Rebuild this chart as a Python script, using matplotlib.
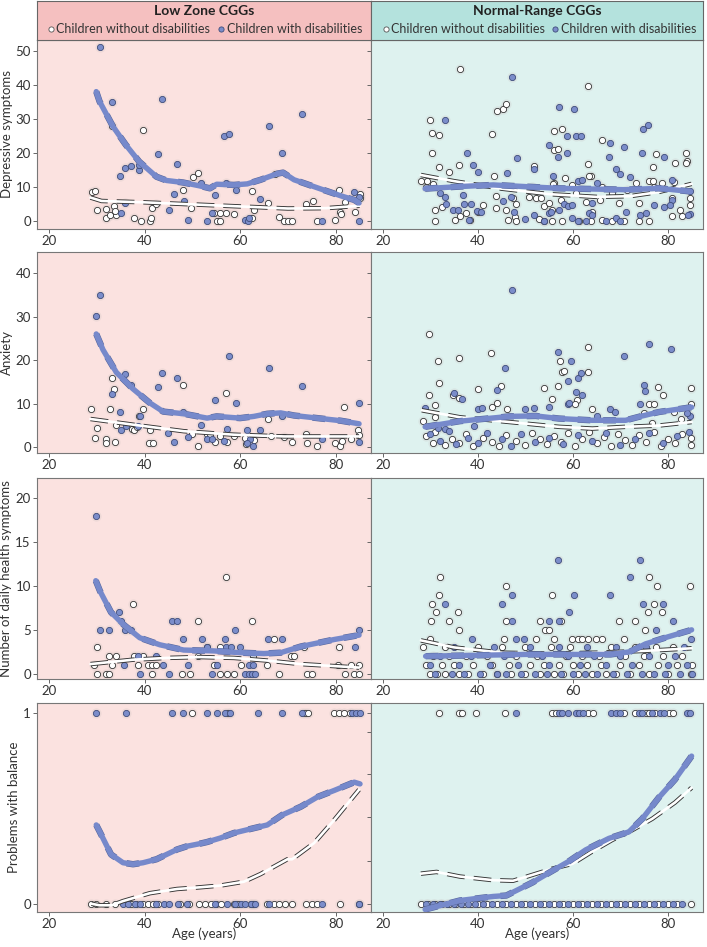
import matplotlib
matplotlib.use('Agg')
import matplotlib.pyplot as plt

plt.rcParams['font.family'] = ['Lato', 'DejaVu Sans']

# ---------------- data ----------------
# row 1 : depressive symptoms
dep_low_w_age = [30.6, 33.2, 34.8, 35.1, 35.9, 36.0, 37.2, 38.9, 38.9, 42.8, 43.7, 45.1, 46.1, 46.9, 48.2, 49.1, 51.9, 53.1,
                 54.1, 54.8, 56.7, 57.7, 57.0, 59.2, 61.1, 61.6, 61.8, 64.1, 66.0, 68.7, 73.0, 77.2, 83.9, 84.9, 84.9]
dep_low_w_val = [51.1, 35.0, 13.2, 2.6, 15.7, 5.5, 16.2, 15.1, 16.6, 19.7, 35.9, 3.4, 8.1, 16.7, 6.1, 0.3, 11.2, 0.0,
                 2.6, 7.8, 24.9, 25.7, 11.4, 9.3, 0.5, 0.0, 1.0, 6.5, 27.9, 20.0, 31.4, 0.0, 8.5, 0.0, 7.3]
dep_low_wo_age = [29.0, 29.7, 30.1, 33.2, 31.9, 32.0, 32.7, 33.7, 34.0, 33.8, 37.9, 39.2, 39.7, 41.1, 41.3, 41.6, 42.5, 48.1,
                  49.7, 50.1, 51.2, 54.5, 55.1, 55.9, 55.9, 57.1, 58.7, 62.6, 62.9, 62.6, 65.9, 67.3, 68.1, 69.2, 70.0,
                  70.9, 73.8, 75.3, 76.2, 79.9, 80.8, 80.9, 81.2, 81.9, 84.1, 85.0, 85.1]
dep_low_wo_val = [8.6, 8.9, 3.3, 27.9, 0.9, 3.6, 1.9, 4.4, 1.9, 3.1, 0.9, 0.1, 26.7, 0.0, 1.0, 3.9, 5.2, 9.3,
                  3.9, 13.1, 14.1, 2.4, 0.0, 0.0, 2.4, 2.6, 2.3, 8.9, 3.3, 1.0, 5.5, 14.0, 1.2, 0.2, 0.2,
                  0.2, 5.1, 6.1, 0.0, 0.5, 9.2, 2.7, 2.3, 5.8, 2.9, 8.1, 6.8]
dep_low_w_fit_age = [29.9, 30.6, 33.4, 36.1, 38.9, 42.5, 44.6, 48.1, 51.6, 53.7, 55.1, 58.7, 61.5, 64.3, 67.8, 69.0,
                     71.3, 73.4, 76.9, 81.1, 83.9, 84.9]
dep_low_w_fit = [38.0, 35.1, 27.8, 22.4, 17.5, 13.1, 12.0, 11.4, 10.4, 9.7, 10.9, 10.7, 11.0, 12.2, 14.0, 14.3,
                 12.2, 11.2, 9.5, 7.5, 6.3, 5.4]
dep_low_wo_fit_age = [28.7, 31.0, 40.0, 50.0, 60.0, 70.0, 78.0, 85.0]
dep_low_wo_fit = [7.0, 6.0, 5.6, 5.0, 4.4, 3.8, 3.9, 4.6]

dep_nor_w_age = [33.0, 47.2, 57.1, 60.3, 37.8, 39.0, 40.1, 46.2, 48.2, 54.9, 56.9, 58.7, 58.7, 60.7, 61.8, 51.9, 55.9,
                 61.1, 62.0, 67.8, 67.6, 70.7, 69.1, 69.9, 72.1, 74.8, 75.8, 74.6, 79.2, 80.9, 84.7, 84.6, 32.0, 33.0,
                 33.3, 36.8, 37.0, 38.6, 39.8, 40.6, 38.2, 34.8, 35.8, 45.3, 47.0, 47.6, 49.9, 51.8, 53.9, 54.9, 55.4,
                 57.1, 58.2, 58.9, 59.9, 59.9, 61.0, 62.7, 63.4, 64.1, 64.1, 65.1, 66.9, 69.0, 69.9, 71.1, 74.2, 75.3,
                 77.0, 80.9, 80.5, 79.2, 84.2]
dep_nor_w_val = [29.8, 42.2, 33.4, 32.8, 20.0, 16.5, 14.5, 14.3, 18.7, 22.3, 19.0, 25.0, 20.0, 24.9, 25.1, 15.3, 13.4,
                 11.7, 12.2, 22.9, 19.0, 21.9, 15.3, 13.8, 13.0, 27.0, 28.2, 20.0, 19.0, 12.2, 8.8, 2.1, 8.3, 7.1,
                 5.2, 7.8, 5.2, 5.2, 3.1, 2.8, 0.3, 3.4, 3.4, 6.0, 7.3, 2.9, 0.7, 1.9, 0.0, 2.4, 2.9,
                 3.4, 5.1, 4.4, 4.9, 1.0, 0.0, 0.0, 2.4, 1.9, 5.4, 11.2, 0.0, 0.9, 0.0, 2.9, 1.9, 2.6,
                 4.9, 6.3, 4.9, 4.2, 1.9]
dep_nor_wo_age = [36.2, 63.1, 29.9, 30.3, 31.9, 30.3, 31.9, 34.0, 36.1, 42.9, 43.3, 44.0, 45.3, 46.0, 51.9, 56.1, 57.8,
                  56.0, 56.8, 56.1, 58.4, 63.2, 66.1, 63.8, 76.9, 77.6, 81.6, 83.8, 84.0, 83.9, 28.0, 29.0,
                  31.0, 35.1, 38.3, 46.3, 47.9, 48.1, 52.9, 54.0, 55.7, 57.8, 61.3, 63.8, 66.2, 68.3, 70.7, 73.9,
                  76.0, 80.9, 82.9, 31.0, 32.4, 36.2, 37.4, 40.0, 41.1, 43.9, 46.0, 48.1, 50.8, 52.2, 53.3, 54.0,
                  55.7, 55.0, 57.5, 60.6, 62.7, 64.1, 65.8, 68.3, 69.7, 73.2, 73.9, 76.0, 76.9, 80.9, 82.6, 84.7,
                  84.7, 30.6, 43.9, 47.4, 51.5, 55.9, 59.9, 63.4, 66.2, 71.4, 77.0, 78.8, 81.2, 29.2]
dep_nor_wo_val = [44.5, 39.5, 29.8, 25.8, 25.2, 20.0, 15.8, 14.6, 16.6, 25.6, 13.2, 32.4, 32.8, 34.4, 16.1, 26.5, 27.0,
                  20.8, 21.2, 11.4, 12.7, 16.8, 23.9, 13.2, 15.9, 19.7, 17.1, 20.0, 17.7, 17.1, 11.9, 10.2,
                  0.0, 0.3, 0.3, 0.4, 1.3, 0.0, 0.7, 0.0, 0.0, 0.0, 0.0, 0.0, 0.5, 0.0, 0.0, 0.0,
                  0.0, 1.5, 1.5, 3.4, 4.2, 1.7, 2.4, 2.9, 4.7, 3.9, 3.4, 5.1, 7.3, 6.8, 6.8, 4.4,
                  3.4, 5.4, 6.3, 8.3, 5.8, 2.9, 6.3, 8.3, 5.4, 11.2, 5.4, 11.9, 11.9, 6.8, 3.4, 6.8,
                  4.9, 10.9, 7.5, 6.8, 10.0, 10.9, 10.7, 13.4, 10.2, 9.3, 10.2, 11.2, 11.6, 11.7]
dep_nor_w_fit_age = [28.9, 36.0, 43.2, 50.1, 57.1, 64.1, 71.1, 78.1, 84.7]
dep_nor_w_fit = [9.6, 10.2, 10.7, 10.2, 9.7, 9.5, 9.3, 9.7, 8.8]
dep_nor_wo_fit_age = [28.0, 35.0, 45.0, 55.0, 65.0, 72.0, 78.0, 85.0]
dep_nor_wo_fit = [13.6, 11.8, 9.6, 8.0, 7.2, 7.4, 8.6, 11.0]

# row 2 : anxiety
anx_low_w_age = [30.6, 29.9, 36.0, 37.1, 33.1, 34.8, 43.7, 42.8, 46.9, 48.0, 54.7, 57.7, 59.1, 66.0, 73.0, 84.9, 68.7,
                 35.1, 36.1, 38.7, 39.1, 45.0, 46.1, 49.0, 51.8, 53.1, 54.2, 56.7, 57.2, 61.5, 62.0, 62.7, 64.1,
                 77.2, 84.9, 61.5]
anx_low_w_val = [35.0, 30.2, 16.8, 14.2, 12.2, 8.2, 17.0, 13.9, 15.8, 8.0, 10.8, 20.9, 10.2, 18.1, 14.0, 10.1, 7.1,
                 3.9, 5.0, 5.0, 7.3, 3.4, 1.2, 2.4, 5.1, 1.8, 1.9, 1.5, 4.3, 4.0, 1.9, 0.2, 4.0,
                 1.9, 1.2, 1.0]
anx_low_wo_age = [28.7, 33.2, 33.6, 32.7, 48.0, 57.1, 39.7, 38.9, 81.8, 65.9, 30.1, 29.6, 31.9, 32.0, 33.8, 34.0, 37.3,
                  37.9, 38.5, 41.0, 41.7, 41.1, 49.9, 51.2, 53.1, 53.8, 54.8, 55.9, 57.3, 58.7, 61.1, 61.3, 62.9,
                  66.4, 69.2, 70.9, 74.1, 76.2, 73.7, 79.9, 81.0, 81.3, 83.2, 84.6, 84.8]
anx_low_wo_val = [8.8, 16.0, 13.3, 8.8, 14.3, 12.4, 8.9, 7.3, 9.2, 6.5, 4.4, 2.1, 1.9, 1.0, 1.2, 5.2, 4.2,
                  4.0, 4.7, 1.1, 1.1, 4.0, 3.1, 0.4, 3.1, 2.5, 1.2, 2.7, 1.2, 2.5, 2.1, 0.8, 1.6,
                  2.5, 2.3, 1.2, 1.1, 0.2, 3.1, 1.0, 0.2, 1.5, 1.9, 4.0, 2.9]
anx_low_w_fit_age = [29.9, 31.3, 34.1, 37.6, 41.1, 43.9, 48.2, 53.1, 55.1, 60.0, 62.9, 65.7, 68.5, 71.3, 76.2, 81.1, 84.9]
anx_low_w_fit = [26.0, 22.4, 17.2, 13.4, 10.2, 8.2, 7.7, 6.7, 7.1, 6.7, 7.1, 7.7, 7.9, 7.3, 6.7, 6.1, 5.4]
anx_low_wo_fit_age = [28.7, 37.6, 48.2, 58.7, 69.2, 84.9]
anx_low_wo_fit = [6.5, 5.2, 3.7, 2.9, 2.5, 2.5]

anx_nor_w_age = [47.2, 76.0, 80.7, 70.8, 56.8, 59.7, 45.8, 58.9, 61.1, 61.7, 60.7, 62.0, 35.0, 36.7, 44.0, 74.9, 75.1,
                 58.9, 59.2, 74.1, 55.0, 50.0, 51.9, 40.0, 40.8, 28.9, 67.8, 68.8, 65.1, 31.7, 33.0, 39.2, 84.7, 84.0,
                 30.0, 32.0, 34.0, 35.5, 38.0, 40.0, 42.0, 45.0, 47.0, 49.0, 52.0, 55.0, 58.0, 61.0, 64.0, 67.0,
                 70.0, 73.0, 76.0, 79.0, 82.0, 84.5]
anx_nor_w_val = [36.0, 23.8, 22.6, 20.9, 21.9, 19.9, 18.2, 15.1, 16.0, 17.1, 12.7, 11.9, 12.5, 11.1, 13.1, 14.4, 12.9,
                 10.0, 10.1, 10.0, 9.2, 8.7, 9.0, 8.7, 9.1, 9.1, 8.7, 8.0, 7.3, 4.5, 4.2, 5.0, 7.1, 7.9,
                 3.0, 1.5, 3.8, 0.8, 2.2, 1.0, 3.4, 1.8, 0.2, 3.0, 1.3, 2.2, 0.8, 2.9, 1.5, 3.2,
                 0.5, 2.0, 3.4, 1.0, 2.5, 3.5]
anx_nor_wo_age = [29.8, 31.7, 31.9, 36.1, 42.8, 63.1, 57.2, 57.8, 58.2, 63.1, 56.9, 53.9, 44.9, 40.0, 29.8, 31.0, 36.1,
                  34.7, 55.7, 60.8, 60.5, 76.0, 77.0, 77.9, 79.0, 84.8, 84.9, 43.0, 44.0, 46.2, 64.0, 28.4, 31.0,
                  74.9, 81.2, 82.8, 76.7,
                  29.0, 30.5, 31.0, 33.0, 34.5, 36.0, 37.5, 39.0, 41.0, 43.0, 44.5, 46.0, 48.0, 50.0, 51.5, 53.0,
                  54.5, 56.0, 57.5, 59.0, 60.5, 62.0, 63.5, 65.0, 66.5, 68.0, 69.5, 71.0, 72.5, 74.0, 75.5, 77.0,
                  78.5, 80.0, 81.5, 83.0, 84.8, 84.8]
anx_nor_wo_val = [25.9, 19.9, 14.7, 20.6, 21.7, 23.1, 19.9, 17.2, 17.5, 17.2, 14.0, 13.6, 14.1, 13.3, 11.9, 9.8, 11.4,
                  12.1, 11.1, 10.9, 10.0, 10.0, 10.0, 13.8, 12.1, 13.6, 10.0, 9.2, 10.2, 8.9, 8.9, 6.0, 6.9,
                  7.9, 8.1, 6.6, 5.6,
                  2.5, 1.0, 3.5, 0.5, 2.0, 1.0, 3.0, 0.3, 2.2, 1.2, 0.3, 2.8, 1.5, 0.5, 3.2, 2.0,
                  0.8, 2.6, 1.2, 3.3, 0.4, 2.0, 3.5, 1.0, 2.4, 0.3, 3.0, 1.6, 0.6, 2.8, 1.2, 3.6,
                  0.2, 2.0, 1.0, 3.0, 2.2, 0.5]
anx_nor_w_fit_age = [28.9, 36.2, 46.7, 52.2, 57.1, 64.1, 71.1, 74.6, 78.1, 85.0]
anx_nor_w_fit = [4.7, 6.0, 7.1, 7.2, 6.6, 6.2, 6.2, 7.2, 8.1, 9.2]
anx_nor_wo_fit_age = [28.2, 36.2, 46.7, 57.1, 64.1, 71.1, 78.1, 85.0]
anx_nor_wo_fit = [8.5, 6.9, 5.8, 4.7, 4.3, 4.7, 5.0, 5.8]

# row 3 : number of daily health symptoms
hlt_low_w_age = [29.8, 30.6, 32.6, 34.6, 35.1, 36.0, 37.2, 45.8, 46.9, 59.0, 48.1, 52.1, 56.9, 65.9, 68.7, 84.9,
                 38.7, 39.1, 35.8, 42.5, 43.9, 45.2, 49.1, 53.1, 54.1, 55.1, 57.0, 58.0, 60.0, 61.1, 61.8, 62.5,
                 63.2, 61.8, 62.7, 84.1]
hlt_low_w_val = [18, 5, 5, 7, 6, 5, 5, 6, 6, 5, 4, 4, 4, 4, 4, 5,
                 2, 0, 1, 2, 1, 0, 1, 3, 0, 1, 3, 3, 3, 0, 0, 0,
                 0, 1, 1, 3]
hlt_low_wo_age = [57.1, 37.6, 51.2, 62.6, 67.1, 30.1, 29.4, 30.1, 31.9, 32.6, 32.6, 34.1, 33.3, 37.9, 39.7, 38.7, 40.7,
                  41.5, 41.5, 42.5, 47.8, 49.6, 51.2, 53.1, 54.5, 55.9, 55.9, 57.3, 58.7, 60.1, 62.8, 65.6, 68.1,
                  70.6, 71.3, 73.4, 74.1, 75.1, 80.4, 80.8, 81.9, 83.2, 83.9, 84.9, 84.9]
hlt_low_wo_val = [11, 8, 6, 6, 4, 3, 1, 0, 0, 0, 2, 2, 1, 2, 2, 1, 1,
                  1, 0, 1, 0, 0, 2, 3, 1, 3, 0, 0, 0, 1, 2, 1, 0,
                  2, 2, 3, 0, 0, 1, 3, 0, 1, 0, 1, 0]
hlt_low_w_fit_age = [29.8, 30.7, 33.0, 35.6, 39.0, 43.2, 48.2, 54.5, 60.0, 65.0, 68.5, 72.7, 79.7, 84.9]
hlt_low_w_fit = [10.6, 9.4, 7.0, 5.6, 4.1, 3.3, 2.7, 2.6, 2.4, 2.3, 2.4, 3.1, 3.9, 4.4]
hlt_low_wo_fit_age = [28.7, 37.6, 44.6, 51.6, 58.7, 65.7, 72.7, 84.9]
hlt_low_wo_fit = [1.1, 1.6, 1.8, 1.9, 1.8, 1.5, 1.1, 0.7]

hlt_nor_w_age = [56.9, 74.1, 72.0, 47.2, 60.2, 67.8, 45.1, 33.0, 74.8, 79.0, 59.1, 47.1, 54.9, 57.0, 81.0, 77.4, 38.8,
                 48.1, 49.7, 84.8,
                 31.0, 34.5, 37.0, 40.5, 44.0, 46.0, 49.0, 52.0, 54.5, 57.5, 60.0, 62.5, 65.0, 68.5, 71.5, 74.5,
                 77.0, 79.5, 82.5, 85.0, 30.0, 36.0, 42.5, 48.5, 55.0, 61.5, 67.0, 72.5, 80.0, 84.0,
                 32.0, 38.5, 45.5, 53.5, 59.0, 64.5, 70.0, 76.0, 81.5, 35.0, 43.5, 51.0, 57.0, 63.0, 69.0, 75.5, 83.5]
hlt_nor_w_val = [13, 13, 11, 9, 9, 9, 8, 8, 8, 8, 7, 6, 6, 6, 6, 5, 4,
                 4, 4, 4,
                 0, 0, 0, 0, 0, 0, 0, 0, 0, 0, 0, 0, 0, 0, 0, 0,
                 0, 0, 0, 0, 1, 1, 1, 1, 1, 1, 1, 1, 1, 1,
                 2, 2, 2, 2, 2, 2, 2, 2, 2, 3, 3, 3, 3, 3, 3, 3, 3]
hlt_nor_wo_age = [32.1, 46.0, 31.8, 30.3, 31.2, 30.1, 33.9, 35.8, 36.1, 29.9, 45.9, 55.7, 53.0, 54.1, 55.0, 57.5, 69.7,
                  73.0, 75.1, 76.0, 77.7, 75.8, 77.1, 78.8, 84.7, 45.6, 52.2, 56.1, 59.9, 61.0, 62.0, 63.1, 64.8,
                  66.2, 70.7,
                  30.0, 31.5, 33.0, 36.0, 38.0, 41.0, 44.0, 47.0, 50.0, 53.0, 56.0, 58.0, 61.0, 64.0, 67.0, 69.0,
                  72.0, 76.0, 80.0, 84.8, 29.0, 32.5, 35.0, 39.0, 43.0, 46.5, 51.0, 54.0, 57.0, 60.0, 63.0, 66.0,
                  70.0, 74.0, 78.0, 82.0, 85.0, 30.5, 34.0, 37.5, 42.0, 48.0, 52.5, 58.5, 62.0, 65.5, 71.0, 75.0,
                  79.0, 83.0, 28.5, 33.0, 40.0, 45.0, 50.0, 55.5, 59.5, 68.0, 73.0, 77.5, 81.0]
hlt_nor_wo_val = [11, 10, 9, 8, 7, 6, 6, 7, 5, 4, 6, 9, 6, 5, 5, 6, 6,
                  6, 5, 11, 10, 7, 8, 7, 10, 4, 4, 4, 4, 4, 4, 4, 4,
                  4, 4,
                  0, 0, 0, 0, 0, 0, 0, 0, 0, 0, 0, 0, 0, 0, 0, 0,
                  0, 0, 0, 0, 1, 1, 1, 1, 1, 1, 1, 1, 1, 1, 1, 1,
                  1, 1, 1, 1, 1, 2, 2, 2, 2, 2, 2, 2, 2, 2, 2, 2,
                  2, 2, 3, 3, 3, 3, 3, 3, 3, 3, 3, 3, 3]
hlt_nor_w_fit_age = [29.0, 40.0, 50.0, 60.0, 68.0, 72.0, 75.3, 80.0, 85.0]
hlt_nor_w_fit = [2.0, 2.1, 2.2, 2.2, 2.2, 2.5, 3.4, 4.2, 5.0]
hlt_nor_wo_fit_age = [28.0, 35.0, 45.0, 55.0, 65.0, 75.0, 85.0]
hlt_nor_wo_fit = [3.8, 3.0, 2.4, 2.3, 2.4, 2.6, 2.9]

# row 4 : problems with balance (0 / 1)
bal_low_w_age = [29.8, 36.1, 45.8, 48.1, 53.1, 55.2, 56.9, 57.8, 63.7, 68.7, 73.0, 83.5, 84.2, 85.0,
                 35.5, 36.5, 38.0, 39.0, 42.4, 44.0, 45.2, 47.0, 48.9, 54.8, 57.2, 59.0, 60.1, 61.1, 62.2, 63.2,
                 66.0, 77.2, 84.9]
bal_low_w_val = [1] * 14 + [0] * 19
bal_low_wo_age = [50.0, 57.5, 73.6, 74.2, 79.7, 80.7, 81.8, 83.0,
                  28.9, 29.9, 32.0, 33.8, 37.2, 38.3, 39.7, 40.8, 41.8, 42.9, 47.5, 49.3, 51.3, 52.7, 53.9, 55.0,
                  56.0, 58.7, 59.5, 62.2, 62.9, 65.7, 67.1, 68.2, 69.5, 70.8, 73.7, 75.1, 76.2, 81.0, 84.9]
bal_low_wo_val = [1] * 8 + [0] * 31
bal_low_w_fit_age = [29.9, 30.6, 33.0, 35.5, 37.6, 39.7, 42.5, 44.6, 46.8, 48.9, 51.7, 53.1, 55.9, 58.7, 61.5, 65.7,
                     68.8, 72.7, 76.2, 79.7, 83.9, 85.1]
bal_low_w_fit = [0.414, 0.38, 0.26, 0.217, 0.209, 0.217, 0.235, 0.26, 0.286, 0.303, 0.317, 0.325, 0.346, 0.372, 0.389,
                 0.414, 0.466, 0.509, 0.56, 0.594, 0.637, 0.628]
bal_low_wo_fit_age = [28.9, 30.6, 33.1, 35.5, 41.1, 46.8, 51.7, 55.9, 60.8, 64.3, 69.9, 70.9, 75.5, 79.7, 84.9]
bal_low_wo_fit = [0.003, -0.005, -0.005, 0.017, 0.058, 0.08, 0.089, 0.098, 0.118, 0.158, 0.235, 0.235, 0.32, 0.44,
                  0.598]

bal_nor_w_age = [48.1, 57.1, 57.8, 58.9, 60.6, 61.3, 62.2, 68.1, 69.0, 70.0, 73.9, 74.6, 76.7, 78.4, 79.1, 84.0, 84.7,
                 29.0, 30.5, 32.0, 33.5, 35.0, 36.5, 38.0, 39.5, 41.0, 43.0, 45.0, 47.0, 49.0, 51.0, 53.0, 55.0,
                 57.0, 59.0, 61.0, 63.0, 65.0, 67.0, 69.0, 71.0, 73.0, 75.0, 77.0, 79.0, 81.0, 83.0]
bal_nor_w_val = [1] * 17 + [0] * 30
bal_nor_wo_age = [31.8, 36.1, 36.6, 39.7, 45.8, 55.7, 56.4, 63.1, 64.3, 70.7, 73.0, 75.3, 76.0, 77.2, 80.2, 81.1,
                  28.0, 29.5, 31.0, 32.5, 34.0, 35.5, 37.0, 38.5, 40.0, 42.0, 44.0, 46.0, 48.0, 50.0, 52.0, 54.0,
                  56.0, 58.0, 60.0, 62.0, 64.0, 66.0, 68.0, 70.0, 72.0, 74.0, 76.0, 78.0, 80.0, 82.0, 84.8]
bal_nor_wo_val = [1] * 16 + [0] * 31
bal_nor_w_fit_age = [28.9, 36.2, 43.2, 46.0, 48.1, 51.5, 55.0, 59.2, 62.7, 67.6, 71.8, 74.6, 78.1, 81.5, 85.0]
bal_nor_w_fit = [-0.027, 0.02, 0.041, 0.046, 0.072, 0.114, 0.165, 0.225, 0.284, 0.344, 0.378, 0.446, 0.557, 0.651,
                 0.773]
bal_nor_wo_fit_age = [28.0, 31.3, 36.2, 43.2, 47.4, 50.1, 55.7, 59.9, 64.1, 68.3, 72.5, 76.7, 81.5, 85.0]
bal_nor_wo_fit = [0.16, 0.169, 0.145, 0.126, 0.123, 0.143, 0.186, 0.211, 0.276, 0.336, 0.387, 0.446, 0.531, 0.608]

row_labels = ['Depressive symptoms', 'Anxiety', 'Number of daily health symptoms', 'Problems with balance']
group_titles = ['Low Zone CGGs', 'Normal-Range CGGs']
legend_labels = ['Children without disabilities', 'Children with disabilities']
x_ticks = [20, 40, 60, 80]
y_ticks = [[0, 10, 20, 30, 40, 50], [0, 10, 20, 30, 40], [0, 5, 10, 15, 20], [0, 1]]
y_limits = [(-2.2, 53.1), (-1.3, 44.8), (-0.6, 22.3), (-0.04, 1.05)]

# ---------------- style ----------------
pink_bg, teal_bg = '#fbe2e0', '#def2ef'
pink_head, teal_head = '#f5c0c0', '#b4e2dd'
blue_fill, blue_edge, blue_line = '#7b8dca', '#3e4c7a', '#7689cb'
W, H = 707, 947

fig = plt.figure(figsize=(W / 100, H / 100), dpi=100)

col_x = [(37, 371), (371, 703)]
row_y = [(40, 229), (252, 453), (478, 679), (703, 912)]


def px_axes(x0, x1, y0, y1):
    return fig.add_axes([x0 / W, 1 - y1 / H, (x1 - x0) / W, (y1 - y0) / H])


def fit_line(ax, xs, ys, white):
    if white:
        ax.plot(xs, ys, color='#333333', lw=3.2, ls=(0, (4, 2)), zorder=4, solid_capstyle='round')
        ax.plot(xs, ys, color='white', lw=1.9, zorder=5, solid_capstyle='round')
    else:
        ax.plot(xs, ys, color='#56659a', lw=4.6, ls=(0, (2, 2)), zorder=6)
        ax.plot(xs, ys, color=blue_line, lw=3.9, zorder=7, solid_capstyle='round')


def points(ax, xs, ys, white):
    fc = 'white' if white else blue_fill
    ec = '#333333' if white else blue_edge
    ax.scatter(xs, ys, s=55, color='#c8c0c0', alpha=0.25, lw=0, zorder=2)
    ax.scatter(xs, ys, s=20, facecolor=fc, edgecolor=ec, lw=0.6, zorder=3)


panels = [
    [(dep_low_wo_age, dep_low_wo_val, dep_low_w_age, dep_low_w_val,
      dep_low_wo_fit_age, dep_low_wo_fit, dep_low_w_fit_age, dep_low_w_fit),
     (dep_nor_wo_age, dep_nor_wo_val, dep_nor_w_age, dep_nor_w_val,
      dep_nor_wo_fit_age, dep_nor_wo_fit, dep_nor_w_fit_age, dep_nor_w_fit)],
    [(anx_low_wo_age, anx_low_wo_val, anx_low_w_age, anx_low_w_val,
      anx_low_wo_fit_age, anx_low_wo_fit, anx_low_w_fit_age, anx_low_w_fit),
     (anx_nor_wo_age, anx_nor_wo_val, anx_nor_w_age, anx_nor_w_val,
      anx_nor_wo_fit_age, anx_nor_wo_fit, anx_nor_w_fit_age, anx_nor_w_fit)],
    [(hlt_low_wo_age, hlt_low_wo_val, hlt_low_w_age, hlt_low_w_val,
      hlt_low_wo_fit_age, hlt_low_wo_fit, hlt_low_w_fit_age, hlt_low_w_fit),
     (hlt_nor_wo_age, hlt_nor_wo_val, hlt_nor_w_age, hlt_nor_w_val,
      hlt_nor_wo_fit_age, hlt_nor_wo_fit, hlt_nor_w_fit_age, hlt_nor_w_fit)],
    [(bal_low_wo_age, bal_low_wo_val, bal_low_w_age, bal_low_w_val,
      bal_low_wo_fit_age, bal_low_wo_fit, bal_low_w_fit_age, bal_low_w_fit),
     (bal_nor_wo_age, bal_nor_wo_val, bal_nor_w_age, bal_nor_w_val,
      bal_nor_wo_fit_age, bal_nor_wo_fit, bal_nor_w_fit_age, bal_nor_w_fit)],
]

for r in range(4):
    for c in range(2):
        ax = px_axes(col_x[c][0], col_x[c][1], row_y[r][0], row_y[r][1])
        ax.set_facecolor(pink_bg if c == 0 else teal_bg)
        wo_a, wo_v, w_a, w_v, wof_a, wof_v, wf_a, wf_v = panels[r][c]
        points(ax, wo_a, wo_v, True)
        points(ax, w_a, w_v, False)
        fit_line(ax, wof_a, wof_v, True)
        fit_line(ax, wf_a, wf_v, False)
        ax.set_xlim(17.5, 87.4)
        ax.set_ylim(*y_limits[r])
        ax.set_xticks(x_ticks)
        ax.set_yticks(y_ticks[r])
        if r == 3:
            ax.set_yticks([0, 0.226, 0.453, 0.68, 0.9, 1] if c == 1 else [0, 1])
        ax.tick_params(direction='out', length=3, width=0.7, color='#666666',
                       labelsize=9.5, labelcolor='#333333', pad=1.5)
        if c == 0:
            ax.set_ylabel(row_labels[r], fontsize=9.5, color='#333333', labelpad=2)
            if r == 3:
                ax.set_yticklabels(['0', '1'])
        else:
            ax.tick_params(labelleft=False)
        if r == 3:
            ax.set_xlabel('Age (years)', fontsize=9.5, color='#333333', labelpad=-2)
        for sp in ax.spines.values():
            sp.set_color('#777777')
            sp.set_linewidth(0.8)

# header cells
head_marks = [(0.042, 0.551), (0.045, 0.554)]
for c in range(2):
    hx = px_axes(col_x[c][0], col_x[c][1], 1, 40)
    hx.set_facecolor(pink_head if c == 0 else teal_head)
    hx.set_xticks([])
    hx.set_yticks([])
    for sp in hx.spines.values():
        sp.set_color('#666666')
        sp.set_linewidth(0.8)
    hx.text(0.5, 0.74, group_titles[c], ha='center', va='center', fontsize=10,
            fontweight='bold', color='#222222', transform=hx.transAxes)
    m0, m1 = head_marks[c]
    hx.scatter([m0], [0.27], s=14, facecolor='white', edgecolor='#555555', lw=0.6,
               transform=hx.transAxes, clip_on=False)
    hx.text(m0 + 0.016, 0.27, legend_labels[0], ha='left', va='center', fontsize=9,
            color='#333333', transform=hx.transAxes)
    hx.scatter([m1], [0.27], s=14, facecolor=blue_fill, edgecolor=blue_edge, lw=0.6,
               transform=hx.transAxes, clip_on=False)
    hx.text(m1 + 0.017, 0.27, legend_labels[1], ha='left', va='center', fontsize=9,
            color='#333333', transform=hx.transAxes)

fig.savefig('out.png', dpi=100)
